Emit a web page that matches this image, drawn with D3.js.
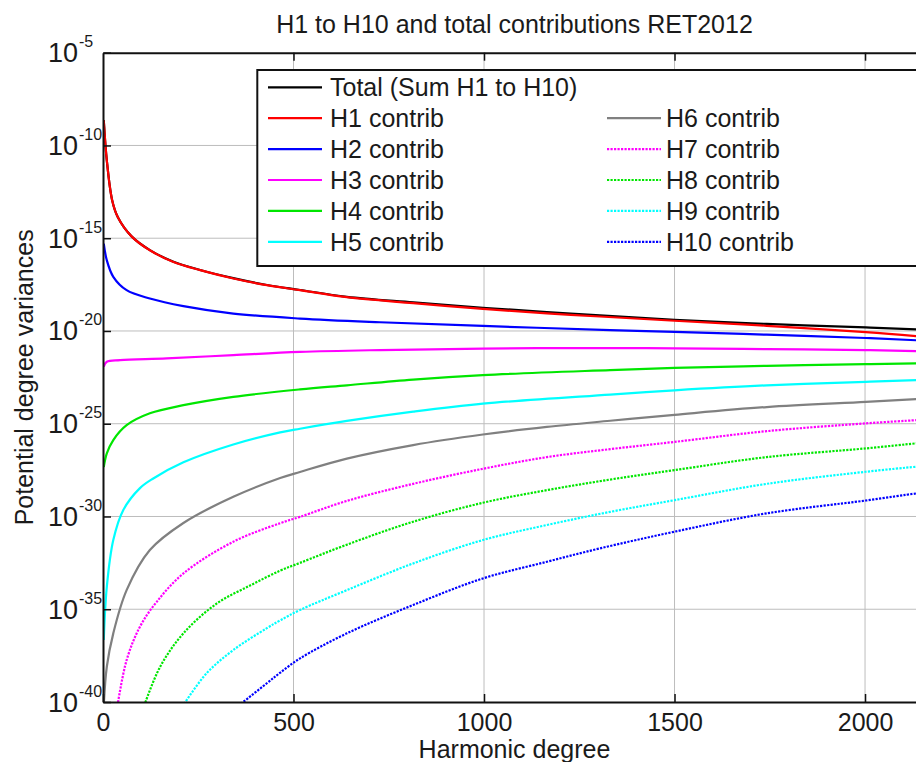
<!DOCTYPE html>
<html>
<head>
<meta charset="utf-8">
<script src="https://cdn.jsdelivr.net/npm/d3@7"></script>
<style>
  html, body { margin: 0; padding: 0; background: #fff; overflow: hidden; }
  svg text { font-family: "Liberation Sans", Arial, Helvetica, sans-serif; fill: #1a1a1a; }
</style>
</head>
<body>
<svg id="chart" width="916" height="762"></svg>
<script>
// ---------- Data (log10 of potential degree variance) ----------
const chartTitle = "H1 to H10 and total contributions RET2012";
const xLabel = "Harmonic degree";
const yLabel = "Potential degree variances";
const xTicks = [0, 500, 1000, 1500, 2000];
const yTickExponents = [-40, -35, -30, -25, -20, -15, -10, -5];

const seriesNames = ["Total (Sum H1 to H10)", "H1 contrib", "H2 contrib", "H3 contrib", "H4 contrib", "H5 contrib",
                     "H6 contrib", "H7 contrib", "H8 contrib", "H9 contrib", "H10 contrib"];
const seriesColors = ["#000000", "#ff0000", "#0000ff", "#ff00ff", "#00e600", "#00ffff",
                      "#808080", "#ff00ff", "#00e600", "#00ffff", "#0000ff"];
const seriesDotted = [false, false, false, false, false, false, false, true, true, true, true];

const degTotal = [2, 10, 24, 39, 75, 123, 185, 255, 342, 430, 517, 640, 814, 997, 1165, 1304, 1500, 1742, 2002, 2134, 2160];
const logTotal = [-8.64, -10.8, -12.95, -13.87, -14.9, -15.64, -16.27, -16.71, -17.15, -17.52, -17.79, -18.16, -18.46, -18.75, -18.98, -19.16, -19.4, -19.62, -19.81, -19.91, -19.93];

const degH1 = [2, 10, 24, 39, 75, 123, 185, 255, 342, 430, 517, 640, 814, 997, 1165, 1304, 1500, 1742, 2002, 2134, 2160];
const logH1 = [-8.64, -10.8, -12.95, -13.87, -14.9, -15.65, -16.28, -16.72, -17.17, -17.53, -17.8, -18.18, -18.5, -18.81, -19.05, -19.22, -19.45, -19.72, -20.06, -20.28, -20.33];

const degH2 = [2, 10, 27, 62, 123, 211, 342, 517, 727, 997, 1331, 1500, 1742, 2002, 2134, 2160];
const logH2 = [-15.29, -16.19, -17.08, -17.8, -18.25, -18.66, -19.06, -19.33, -19.53, -19.73, -19.95, -20.05, -20.2, -20.38, -20.5, -20.53];

const degH3 = [2, 10, 45, 167, 342, 517, 727, 997, 1331, 1500, 1742, 2002, 2134, 2160];
const logH3 = [-21.93, -21.66, -21.57, -21.48, -21.3, -21.13, -21.03, -20.95, -20.92, -20.94, -20.98, -21.03, -21.09, -21.1];

const degH4 = [2, 10, 27, 62, 123, 211, 342, 517, 640, 814, 997, 1331, 1500, 1742, 2002, 2134, 2160];
const logH4 = [-27.34, -26.6, -25.88, -25.08, -24.44, -24.0, -23.55, -23.15, -22.93, -22.62, -22.38, -22.11, -21.99, -21.88, -21.79, -21.75, -21.74];

const degH5 = [2, 10, 27, 53, 97, 132, 211, 342, 465, 517, 640, 814, 997, 1331, 1500, 1742, 2002, 2134, 2160];
const logH5 = [-36.66, -33.79, -31.27, -29.66, -28.47, -27.95, -27.08, -26.12, -25.47, -25.27, -24.85, -24.35, -23.92, -23.43, -23.2, -22.93, -22.74, -22.65, -22.63];

const degH6 = [2, 10, 27, 62, 123, 211, 342, 465, 517, 640, 814, 997, 1165, 1331, 1500, 1742, 2002, 2134, 2160];
const logH6 = [-40.2, -38.1, -36.3, -33.97, -31.81, -30.35, -28.94, -27.93, -27.6, -26.88, -26.15, -25.58, -25.17, -24.84, -24.52, -24.1, -23.82, -23.67, -23.65];

const degH7 = [38, 62, 97, 141, 211, 342, 465, 517, 640, 814, 997, 1165, 1331, 1500, 1742, 2002, 2134, 2160];
const logH7 = [-40.2, -37.74, -35.94, -34.6, -33.07, -31.36, -30.36, -30.02, -29.16, -28.24, -27.43, -26.8, -26.37, -25.98, -25.4, -24.98, -24.81, -24.78];

const degH8 = [108, 150, 211, 298, 386, 465, 517, 640, 814, 997, 1165, 1331, 1500, 1742, 2002, 2134, 2160];
const logH8 = [-40.2, -38.1, -36.3, -34.7, -33.72, -32.92, -32.5, -31.52, -30.28, -29.26, -28.58, -28.01, -27.5, -26.8, -26.33, -26.06, -26.02];

const degH9 = [213, 272, 342, 430, 465, 517, 640, 814, 997, 1165, 1331, 1500, 1742, 2002, 2134, 2160];
const logH9 = [-40.1, -38.45, -37.2, -36.02, -35.6, -35.04, -33.97, -32.53, -31.27, -30.46, -29.75, -29.12, -28.24, -27.59, -27.32, -27.28];

const degH10 = [362, 430, 465, 517, 640, 814, 997, 1165, 1304, 1500, 1742, 2002, 2134, 2160];
const logH10 = [-40.1, -38.99, -38.42, -37.65, -36.3, -34.77, -33.34, -32.44, -31.72, -30.82, -29.83, -29.14, -28.76, -28.7];

const seriesDeg = [degTotal, degH1, degH2, degH3, degH4, degH5, degH6, degH7, degH8, degH9, degH10];
const seriesLog = [logTotal, logH1, logH2, logH3, logH4, logH5, logH6, logH7, logH8, logH9, logH10];

(function () {
// ---------- Layout ----------
const svg = d3.select("#chart");
const pL = 103, pR = 926, pT = 52.7, pB = 702;
const FONT = 25;

const x = d3.scaleLinear().domain([0, 2160]).range([pL, pR]);
const y = d3.scaleLog().domain([1e-40, 1e-5]).range([pB, pT]);

svg.append("rect").attr("width", 916).attr("height", 762).attr("fill", "#fff");

svg.append("defs").append("clipPath").attr("id", "plotclip")
  .append("rect").attr("x", pL).attr("y", pT).attr("width", pR - pL).attr("height", pB - pT);

// grid
const grid = svg.append("g").attr("stroke", "#bdbdbd").attr("stroke-width", 1);
xTicks.filter(t => t > 0).forEach(t => {
  grid.append("line").attr("x1", x(t)).attr("x2", x(t)).attr("y1", pT).attr("y2", pB);
});
yTickExponents.filter(e => e > -40 && e < -5).forEach(e => {
  grid.append("line").attr("x1", pL).attr("x2", pR).attr("y1", y(Math.pow(10, e))).attr("y2", y(Math.pow(10, e)));
});

// data lines
const line = d3.line()
  .x(d => x(d[0]))
  .y(d => y(d[1]))
  .curve(d3.curveCatmullRom.alpha(0.5));

const plot = svg.append("g").attr("clip-path", "url(#plotclip)");
seriesNames.forEach((name, i) => {
  const pts = seriesDeg[i].map((dg, k) => [dg, Math.pow(10, seriesLog[i][k])]);
  plot.append("path")
    .attr("d", line(pts))
    .attr("fill", "none")
    .attr("stroke", seriesColors[i])
    .attr("stroke-width", 2.2)
    .attr("stroke-dasharray", seriesDotted[i] ? "2.2,1.3" : null)
    .attr("stroke-linejoin", "round");
});

// axes (box)
const xAxis = d3.axisBottom(x).tickValues(xTicks).tickSizeInner(-8).tickSizeOuter(0).tickPadding(11)
  .tickFormat(d3.format("d"));
const gx = svg.append("g").attr("transform", `translate(0,${pB})`).call(xAxis);
gx.select(".domain").attr("stroke", "#111").attr("stroke-width", 2);
gx.selectAll(".tick line").attr("stroke", "#111").attr("stroke-width", 1.5);
gx.selectAll(".tick text").attr("font-size", FONT).attr("font-family", "Liberation Sans, Arial, sans-serif").attr("fill", "#1a1a1a");

const xTop = d3.axisTop(x).tickValues(xTicks.filter(t => t > 0)).tickSizeInner(-8).tickSizeOuter(0).tickFormat("");
const gxt = svg.append("g").attr("transform", `translate(0,${pT})`).call(xTop);
gxt.select(".domain").attr("stroke", "#111").attr("stroke-width", 2);
gxt.selectAll(".tick line").attr("stroke", "#111").attr("stroke-width", 1.5);

const yAxis = d3.axisLeft(y).tickValues(yTickExponents.map(e => Math.pow(10, e))).tickSizeInner(-8).tickSizeOuter(0).tickFormat("");
const gy = svg.append("g").attr("transform", `translate(${pL},0)`).call(yAxis);
gy.select(".domain").attr("stroke", "#111").attr("stroke-width", 2);
gy.selectAll(".tick line").attr("stroke", "#111").attr("stroke-width", 1.5);

// y tick labels with superscripts
yTickExponents.forEach(e => {
  const ty = y(Math.pow(10, e));
  svg.append("text").attr("x", 78).attr("y", ty + 9.5).attr("text-anchor", "end")
    .attr("font-size", 27).text("10");
  svg.append("text").attr("x", 79).attr("y", ty - 5.5).attr("text-anchor", "start")
    .attr("font-size", 16).text(String(e));
});

// legend
const leg = svg.append("g");
leg.append("rect").attr("x", 257.3).attr("y", 70).attr("width", 720).attr("height", 196)
  .attr("fill", "#fff").attr("stroke", "#111").attr("stroke-width", 2);
const rowY = i => 87.3 + 30.9 * i;
seriesNames.forEach((name, i) => {
  let col, row;
  if (i === 0) { col = 0; row = 0; }
  else if (i <= 5) { col = 0; row = i; }
  else { col = 1; row = i - 5; }
  const lx0 = col === 0 ? 268 : 607;
  const lx1 = col === 0 ? 322 : 661;
  const tx = col === 0 ? 330 : 666;
  const ry = rowY(row);
  leg.append("line").attr("x1", lx0).attr("x2", lx1).attr("y1", ry).attr("y2", ry)
    .attr("stroke", seriesColors[i]).attr("stroke-width", 2.2)
    .attr("stroke-dasharray", seriesDotted[i] ? "2.2,1.3" : null);
  leg.append("text").attr("x", tx).attr("y", ry + 9).attr("font-size", FONT).text(name);
});

// titles
svg.append("text").attr("x", (pL + pR) / 2).attr("y", 33).attr("text-anchor", "middle")
  .attr("font-size", FONT).text(chartTitle);
svg.append("text").attr("x", (pL + pR) / 2).attr("y", 758).attr("text-anchor", "middle")
  .attr("font-size", FONT).text(xLabel);
svg.append("text").attr("transform", `translate(33,${(pT + pB) / 2}) rotate(-90)`)
  .attr("text-anchor", "middle").attr("font-size", FONT).text(yLabel);
})();
</script>
</body>
</html>
